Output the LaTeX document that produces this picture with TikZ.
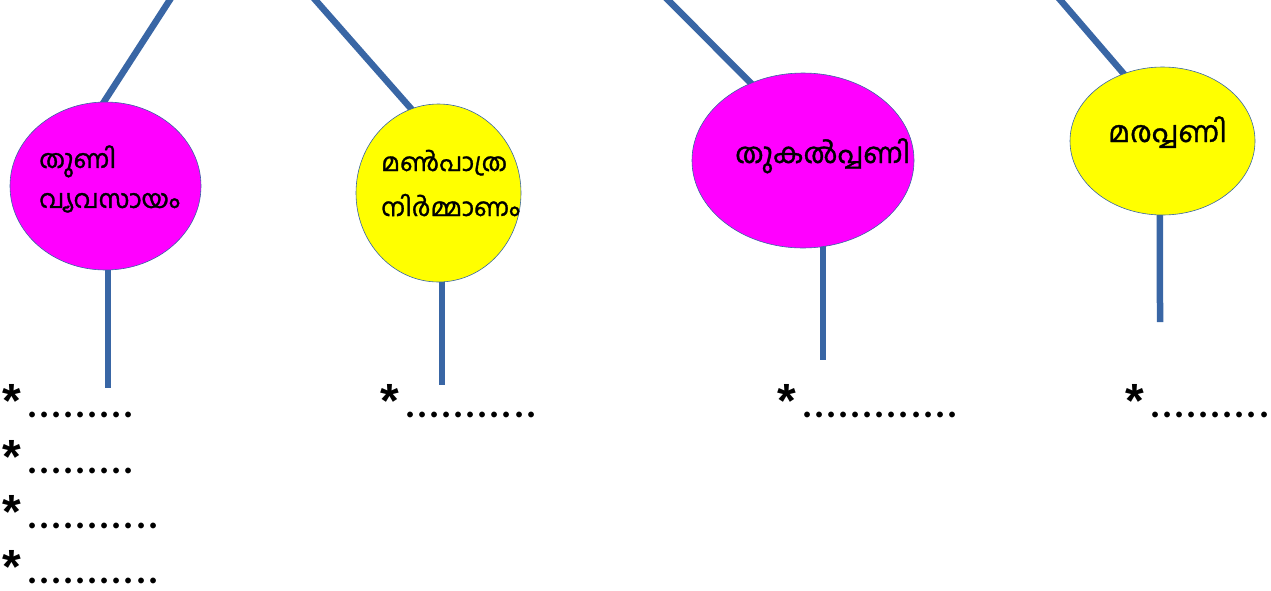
\documentclass[tikz,border=0pt]{standalone}
\usepackage{fontspec}
\newfontfamily\malfont[Script=Malayalam, FakeBold=1.2]{Hind Kochi}
\newfontfamily\listfont{Carlito}
\newfontfamily\markfont{Liberation Sans}
\newcommand{\listmark}{\makebox[24pt][l]{\raisebox{0pt}{\markfont\bfseries *}}}
\usetikzlibrary{positioning,shapes.geometric,backgrounds}
\definecolor{stem}{RGB}{57,102,165}
\definecolor{pinkfill}{RGB}{255,0,255}
\definecolor{yellowfill}{RGB}{255,255,0}
\tikzset{
  bubble/.style={ellipse, draw=stem, line width=0.6pt, inner sep=0pt},
  stemline/.style={draw=stem, line width=6.5pt},
  mltext/.style={align=left, inner sep=0pt},
  listline/.style={font=\listfont\fontsize{48}{55}\selectfont, anchor=base west, inner sep=0pt}
}

\begin{document}
\begin{tikzpicture}[x=1pt,y=-1pt]
		\useasboundingbox (0,0) rectangle (1271,590);
		\node[bubble, fill=pinkfill, minimum width=191pt, minimum height=168pt] (thuni) at (105.5,186) {};
		\node[bubble, fill=yellowfill, minimum width=165pt, minimum height=178pt] (man) at (438.5,193) {};
		\node[bubble, fill=pinkfill, minimum width=222pt, minimum height=175pt] (thukal) at (803,160.5) {};
		\node[bubble, fill=yellowfill, minimum width=185pt, minimum height=148pt] (mara) at (1162.5,141) {};
		
		\node[mltext, font=\malfont\fontsize{25.5}{40}\selectfont, anchor=west] (thunilabel) at (39,179) {തുണി\\വ്യവസായം};
		\node[mltext, font=\malfont\fontsize{25}{45}\selectfont, anchor=west] (manlabel) at (381,183) {മൺപാത്ര\\നിർമ്മാണം};
		\node[mltext, font=\malfont\fontsize{28}{35}\selectfont, anchor=base west] (thukallabel) at (735,163) {തുകൽപ്പണി};
		\node[mltext, font=\malfont\fontsize{29}{30}\selectfont, anchor=base west] (maralabel) at (1108,142) {മരപ്പണി};
		
		\coordinate (top1) at (173,-5);
		\coordinate (top2) at (311,-5);
		\coordinate (top3) at (663,-5);
		\coordinate (top4) at (1056,-5);
		\coordinate (bot1) at (108,388);
		\coordinate (bot2) at (442,385);
		\coordinate (bot3) at (823,360);
		\coordinate (bot4) at (1160,322);
		
		\begin{scope}[on background layer]
			\draw[stemline, shorten >=-8pt] (top1)--(thuni.91);
			\draw[stemline, shorten >=-8pt] (top2)--(man.108);
			\draw[stemline, shorten >=-8pt] (top3)--(thukal.124);
			\draw[stemline, shorten >=-8pt] (top4)--(mara.120);
			\draw[stemline, shorten <=-8pt] (thuni.south -| bot1)--(bot1);
			\draw[stemline, shorten <=-8pt] (man.south -| bot2)--(bot2);
			\draw[stemline, shorten <=-8pt] (thukal.south -| bot3)--(bot3);
			\draw[stemline, shorten <=-8pt] (mara.268)--(bot4);
		\end{scope}
		
		\node[listline] (list1a) at (2,417) {\listmark.........};
		\node[listline] (list1b) at (2,473) {\listmark.........};
		\node[listline] (list1c) at (2,528) {\listmark...........};
		\node[listline] (list1d) at (2,583) {\listmark...........};
		\node[listline] (list2) at (380,417) {\listmark...........};
		\node[listline] (list3) at (777,417) {\listmark.............};
		\node[listline] (list4) at (1125,417) {\listmark..........};
\end{tikzpicture}
\end{document}
